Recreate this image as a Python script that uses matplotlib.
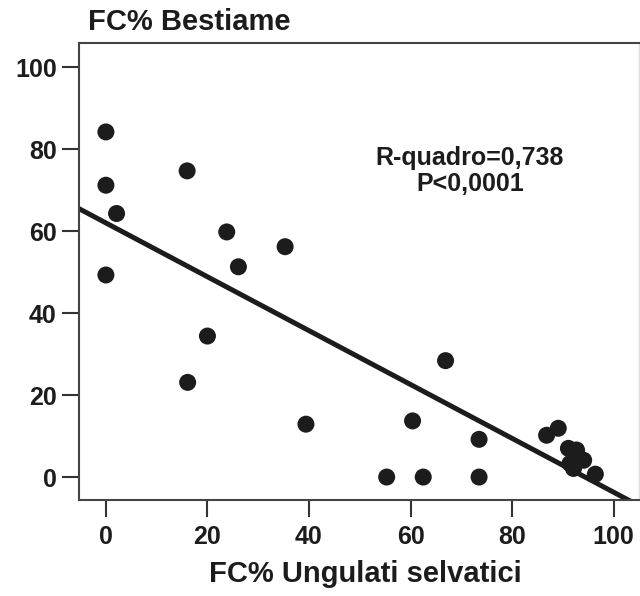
import numpy as np
import matplotlib.pyplot as plt

plt.rcParams['font.family'] = ['Liberation Sans', 'DejaVu Sans']
plt.rcParams['font.weight'] = 'bold'

# FC% of wild ungulates vs FC% of livestock, one point per site
ungulati = [0, 0, 0, 2.1, 16.0, 23.8, 26.1, 35.3, 20.0, 16.1, 39.4,
            66.9, 60.4, 73.5, 55.3, 62.5, 73.5,
            86.8, 89.1, 91.1, 92.7, 91.4, 94.1, 96.4, 92.1]
bestiame = [84.2, 71.2, 49.3, 64.3, 74.7, 59.8, 51.3, 56.2, 34.4, 23.1, 12.9,
            28.4, 13.7, 9.2, 0, 0, 0,
            10.2, 11.9, 7.0, 6.6, 3.3, 4.1, 0.7, 2.1]
ticks = [0, 20, 40, 60, 80, 100]

# linear regression line
intercept = 62.0
slope = -0.657

fig = plt.figure(figsize=(6.4, 5.96), dpi=100)
ax = fig.add_axes([79 / 640, 1 - 500 / 596, 560 / 640, 457 / 596])

ink = '#1c1c1c'
ax.scatter(ungulati, bestiame, s=150, color=ink, edgecolors='none', zorder=3)

xs = np.array([-10, 110])
ax.plot(xs, intercept + slope * xs, color=ink, lw=3.6, zorder=2)

ax.set_xlim(-5.3, 105)
ax.set_ylim(-5.6, 105.9)
ax.set_xticks(ticks)
ax.set_yticks(ticks)
ax.tick_params(axis='both', length=12, width=1.5, color='#333333',
               labelsize=18, labelcolor=ink)
ax.tick_params(axis='x', pad=6)
ax.tick_params(axis='y', pad=4)
for side in ['left', 'top', 'bottom']:
    ax.spines[side].set_linewidth(1.5)
    ax.spines[side].set_color('#444444')
ax.spines['right'].set_color('#dddddd')
ax.spines['right'].set_linewidth(1.0)

ax.text(71.7, 74.6, 'R-quadro=0,738\nP<0,0001', ha='center', va='center',
        fontsize=18, linespacing=1.1, color=ink)

fig.text(365 / 640, 1 - 574 / 596, 'FC% Ungulati selvatici', ha='center',
         va='center', fontsize=21, color=ink)
fig.text(88 / 640, 1 - 22 / 596, 'FC% Bestiame', ha='left', va='center',
         fontsize=21, color=ink)

fig.savefig('out.png', dpi=100)
